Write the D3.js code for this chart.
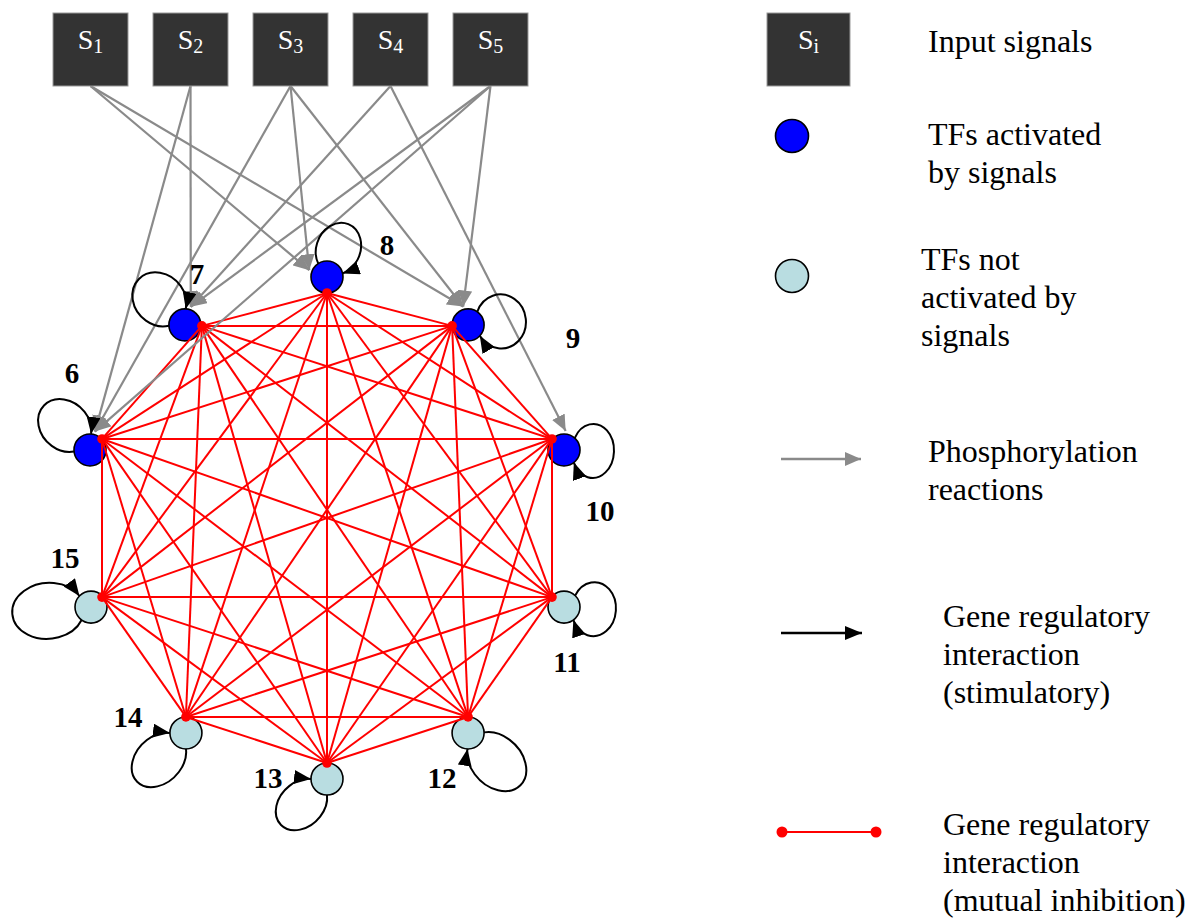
<!DOCTYPE html>
<html><head><meta charset="utf-8">
<script src="https://cdn.jsdelivr.net/npm/d3@7"></script>
<style>body{margin:0;background:#fff} svg{display:block}</style>
</head><body>
<svg id="c" width="1199" height="919"></svg>
<script>
// ---------- data ----------
const signals = ["1","2","3","4","5"];
const tfs = [6,7,8,9,10,11,12,13,14,15];
const activated = [6,7,8,9,10];
const phosphorylation = [[1,8],[1,9],[2,6],[2,7],[3,6],[3,8],[3,9],[4,7],[4,10],[5,6],[5,7],[5,9]];
// every TF stimulates itself
const selfLoops = tfs.slice();
// node layout in unit coordinates (decagon), mapped with scales
const anchorU = [[-1,0.379],[-0.556,0.86],[0,1],[0.556,0.86],[1,0.379],[1,-0.294],[0.627,-0.804],[0,-1],[-0.627,-0.804],[-1,-0.294]];
const legendLabels = [["Input signals"],["TFs activated","by signals"],["TFs not","activated by","signals"],["Phosphorylation","reactions"],["Gene regulatory","interaction","(stimulatory)"],["Gene regulatory","interaction","(mutual inhibition)"]];

// ---------- layout / style ----------
const circleOff = [[-12,11],[-17,-1],[0,-16],[16,-1],[12,11],[12,10],[0,16],[0,16],[0,16],[-11,10]];
const labelOff = [[-18,-77],[12,-51],[60,-32],[105,13],[36,61],[3,55],[-26,45],[-59,-1],[-58,-16],[-26,-49]];
// loop: [direction deg, half-spread deg, reach px, half-width px]
const loopGeom = [[-136,50,64,24],[-135,48,65,25],[-68,55,57,22],[-6,49,58,27],[2,50,50,27],[4,50,52,27],[45,47,74,25],[135,45,65,22],[135,45,69,23],[175,49,79,28]];
const inAngle = {6:-75,7:-72,8:-159,9:-105,10:-85};
const R = 16;
const BLUE = "#0000ff", LIGHT = "#b9dde1", RED = "#ff0000", GRAY = "#8a8a8a", BOX = "#333333";
const SERIF = "'Liberation Serif','Times New Roman',serif";

const svg = d3.select("#c");
const defs = svg.append("defs");
function marker(id, color, len, wid){
  defs.append("marker").attr("id", id).attr("markerUnits","userSpaceOnUse")
    .attr("viewBox", `0 0 ${len} ${wid}`).attr("refX", len).attr("refY", wid/2)
    .attr("markerWidth", len).attr("markerHeight", wid).attr("orient","auto")
    .append("path").attr("d", `M0,0L${len},${wid/2}L0,${wid}Z`).attr("fill", color);
}
marker("gArrow", GRAY, 16, 14);
marker("bArrow", "#000", 17, 14);

const x = d3.scaleLinear().domain([-1,1]).range([102,552]);
const y = d3.scaleLinear().domain([-1,1]).range([763,293]);
const sx = d3.scaleBand().domain(signals).range([53,528]).paddingInner(0.25);
const boxTop = 13, boxH = 73;

const nodes = tfs.map((id,i)=>{
  const ax = x(anchorU[i][0]), ay = y(anchorU[i][1]);
  return {id, ax, ay, cx: ax+circleOff[i][0], cy: ay+circleOff[i][1],
          lx: ax+circleOff[i][0]+labelOff[i][0], ly: ay+circleOff[i][1]+labelOff[i][1],
          loop: loopGeom[i], act: activated.includes(id)};
});
const byId = new Map(nodes.map(n=>[n.id,n]));
const rad = d=>d*Math.PI/180;

// ---------- circles ----------
svg.append("g").selectAll("circle").data(nodes).join("circle")
  .attr("cx",d=>d.cx).attr("cy",d=>d.cy).attr("r",R)
  .attr("fill",d=>d.act?BLUE:LIGHT).attr("stroke","#000").attr("stroke-width",1.6);

// ---------- mutual inhibition (complete graph) ----------
const pairs = [];
nodes.forEach((a,i)=>nodes.forEach((b,j)=>{ if(j>i) pairs.push([a,b]); }));
svg.append("g").selectAll("line").data(pairs).join("line")
  .attr("x1",d=>d[0].ax).attr("y1",d=>d[0].ay).attr("x2",d=>d[1].ax).attr("y2",d=>d[1].ay)
  .attr("stroke",RED).attr("stroke-width",2);
svg.append("g").selectAll("circle").data(nodes).join("circle")
  .attr("cx",d=>d.ax).attr("cy",d=>d.ay).attr("r",4.8).attr("fill",RED);

// ---------- phosphorylation ----------
svg.append("g").selectAll("line").data(phosphorylation).join("line")
  .attr("x1",d=>sx(String(d[0]))+sx.bandwidth()/2).attr("y1",boxTop+boxH)
  .attr("x2",d=>{const n=byId.get(d[1]);return n.cx+19*Math.cos(rad(inAngle[d[1]]));})
  .attr("y2",d=>{const n=byId.get(d[1]);return n.cy+19*Math.sin(rad(inAngle[d[1]]));})
  .attr("stroke",GRAY).attr("stroke-width",2.2).attr("marker-end","url(#gArrow)");

// ---------- signal boxes ----------
const sg = svg.append("g").selectAll("g").data(signals).join("g");
sg.append("rect").attr("x",d=>sx(d)).attr("y",boxTop).attr("width",sx.bandwidth()).attr("height",boxH)
  .attr("fill",BOX).attr("stroke","#9a9a9a").attr("stroke-width",1);
const st = sg.append("text").attr("x",d=>sx(d)+sx.bandwidth()/2).attr("y",49)
  .attr("text-anchor","middle").attr("fill","#fff").attr("font-family",SERIF).attr("font-size",28);
st.append("tspan").text("S");
st.append("tspan").attr("font-size",20).attr("dy",4).text(d=>d);

// ---------- self loops (elliptic arcs) ----------
svg.append("g").selectAll("path").data(selfLoops.map(id=>byId.get(id))).join("path")
  .attr("d",n=>{
    const [th,ph,reach,b] = n.loop;
    const k = Math.sqrt(Math.max(0, 1 - Math.pow(R*Math.sin(rad(ph))/b, 2)));
    const a = (reach - R*Math.cos(rad(ph)))/(1 + k);
    const s = [n.cx+R*Math.cos(rad(th-ph)), n.cy+R*Math.sin(rad(th-ph))];
    const e = [n.cx+R*Math.cos(rad(th+ph)), n.cy+R*Math.sin(rad(th+ph))];
    return `M${s[0]},${s[1]}A${a},${b} ${th} 1 1 ${e[0]},${e[1]}`;
  })
  .attr("fill","none").attr("stroke","#000").attr("stroke-width",2).attr("marker-end","url(#bArrow)");

// ---------- node labels ----------
svg.append("g").selectAll("text").data(nodes).join("text")
  .attr("x",d=>d.lx).attr("y",d=>d.ly+10).attr("text-anchor","middle")
  .attr("font-family",SERIF).attr("font-weight","bold").attr("font-size",29).text(d=>d.id);

// ---------- legend ----------
const lg = svg.append("g");
lg.append("rect").attr("x",767).attr("y",13).attr("width",83).attr("height",73)
  .attr("fill",BOX).attr("stroke","#9a9a9a");
const lt = lg.append("text").attr("x",808.5).attr("y",49).attr("text-anchor","middle")
  .attr("fill","#fff").attr("font-family",SERIF).attr("font-size",28);
lt.append("tspan").text("S");
lt.append("tspan").attr("font-size",20).attr("dy",4).text("i");
lg.append("circle").attr("cx",792).attr("cy",136).attr("r",16.5).attr("fill",BLUE).attr("stroke","#000").attr("stroke-width",1.6);
lg.append("circle").attr("cx",792).attr("cy",276).attr("r",16.5).attr("fill",LIGHT).attr("stroke","#000").attr("stroke-width",1.6);
lg.append("line").attr("x1",781).attr("y1",459).attr("x2",861).attr("y2",459)
  .attr("stroke",GRAY).attr("stroke-width",2.5).attr("marker-end","url(#gArrow)");
lg.append("line").attr("x1",781).attr("y1",633).attr("x2",862).attr("y2",633)
  .attr("stroke","#000").attr("stroke-width",2.5).attr("marker-end","url(#bArrow)");
lg.append("line").attr("x1",782).attr("y1",832).attr("x2",876).attr("y2",832)
  .attr("stroke",RED).attr("stroke-width",2);
lg.selectAll("circle.rd").data([782,876]).join("circle").attr("class","rd")
  .attr("cx",d=>d).attr("cy",832).attr("r",5.5).attr("fill",RED);

const legendX = [928,928,921,928,943,943];
const legendY = [52,145,270,462,627,835];
legendLabels.forEach((lines,i)=>{
  const t = lg.append("text").attr("font-family",SERIF).attr("font-size",32).attr("fill","#000");
  lines.forEach((s,k)=>t.append("tspan").attr("x",legendX[i]).attr("y",legendY[i]+k*38).text(s));
});
</script>
</body></html>
